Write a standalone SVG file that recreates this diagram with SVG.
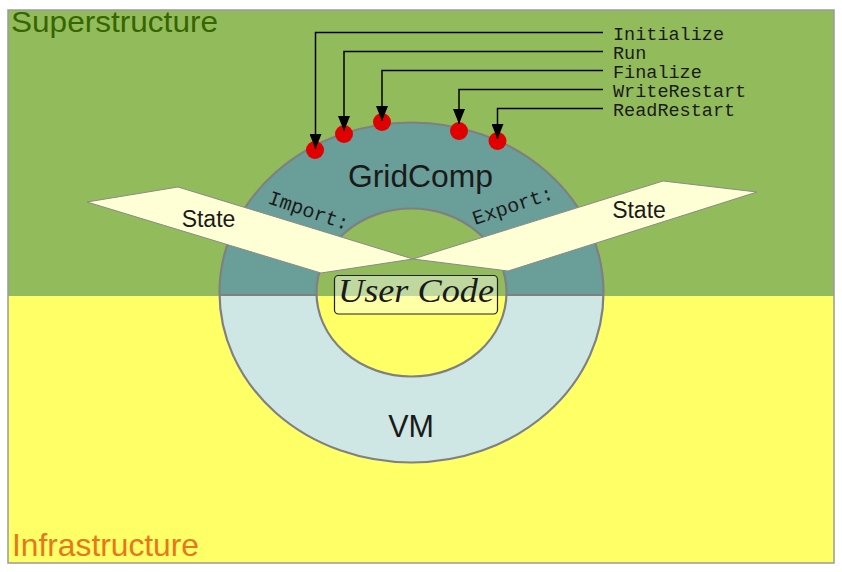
<svg xmlns="http://www.w3.org/2000/svg" width="842" height="572" viewBox="0 0 842 572">
<style>
.mono{font-family:"Liberation Mono","Courier New",monospace;fill:#1a1a1a}
.sans{font-family:"Liberation Sans",Arial,sans-serif;fill:#1a1a1a}
.state{fill:#ffffd6;stroke:#8a8a8a;stroke-width:1}
.dot{fill:#e00000}
.conn{fill:none;stroke:#000;stroke-width:1.5}
.ring{stroke:#808080;stroke-width:2.2;fill:none}
</style>
<defs>
<marker id="arr" markerUnits="userSpaceOnUse" markerWidth="15" markerHeight="12" refX="15" refY="6" orient="auto">
<path d="M0,0 L15,6 L0,12 Z" fill="#000"/>
</marker>
<clipPath id="topClip"><rect x="0" y="0" width="842" height="295"/></clipPath>
<clipPath id="frame"><rect x="8" y="10" width="826" height="553"/></clipPath>
</defs>
<rect width="842" height="572" fill="#ffffff"/>
<g id="superstructure">
<rect x="8" y="10" width="826" height="286" fill="#92bc5c"/>
</g>
<g id="infrastructure">
<rect x="8" y="296" width="826" height="267" fill="#ffff66"/>
</g>
<rect x="8" y="10" width="826" height="553" fill="none" stroke="#9a9a9a" stroke-width="1.5"/>
<g clip-path="url(#frame)">
<text x="11" y="32" class="sans" font-size="30" textLength="207" lengthAdjust="spacingAndGlyphs" style="fill:#376500">Superstructure</text>
</g>
<text x="12" y="556" class="sans" font-size="31.5" textLength="187" lengthAdjust="spacingAndGlyphs" style="fill:#e8761c">Infrastructure</text>

<g id="vm">
<path d="M219.5,292.5 A192,170 0 1 0 603.5,292.5 A192,170 0 1 0 219.5,292.5 Z M316.5,292.5 A95,84 0 1 1 506.5,292.5 A95,84 0 1 1 316.5,292.5 Z" fill="#cee6e4" fill-rule="evenodd"/>
<text x="411" y="437" class="sans" font-size="30.5" text-anchor="middle">VM</text>
</g>
<g id="gridcomp">
<path clip-path="url(#topClip)" d="M219.5,292.5 A192,170 0 1 0 603.5,292.5 A192,170 0 1 0 219.5,292.5 Z M316.5,292.5 A95,84 0 1 1 506.5,292.5 A95,84 0 1 1 316.5,292.5 Z" fill="#6a9e98" fill-rule="evenodd"/>
<ellipse cx="411.5" cy="292.5" rx="192" ry="170" class="ring"/>
<ellipse cx="411.5" cy="292.5" rx="95" ry="84" class="ring"/>
<path d="M219.5,295 H316.5 M506.5,295 H603.5" class="ring"/>
<text x="420.5" y="187" class="sans" font-size="31.5" text-anchor="middle" textLength="145" lengthAdjust="spacingAndGlyphs">GridComp</text>
<text x="267" y="203" class="mono" font-size="20" transform="rotate(19 267 203)">Import:</text>
<text x="475" y="225" class="mono" font-size="20" transform="rotate(-18.5 475 225)">Export:</text>
</g>
<g id="dots">
<circle cx="315" cy="150" r="9" class="dot"/>
<circle cx="344" cy="134" r="9" class="dot"/>
<circle cx="382" cy="122" r="9" class="dot"/>
<circle cx="459" cy="131" r="9" class="dot"/>
<circle cx="497.5" cy="141" r="9" class="dot"/>
</g>
<g id="import-state">
<polygon points="87,202 178,187 413,259 321,273" class="state"/>
<text x="208.5" y="226.5" class="sans" font-size="23" text-anchor="middle">State</text>
</g>
<g id="export-state">
<polygon points="413,259 663,181 757,192 508,271" class="state"/>
<text x="639" y="217.5" class="sans" font-size="23" text-anchor="middle">State</text>
</g>
<g id="usercode">
<rect x="334.5" y="275.5" width="163" height="38.5" rx="4" fill="#ffffff" fill-opacity="0.42" stroke="#222" stroke-width="1.2"/>
<text x="416" y="302" font-family="'Liberation Serif','DejaVu Serif',serif" font-style="italic" font-size="34" textLength="156" lengthAdjust="spacingAndGlyphs" text-anchor="middle" fill="#1a1a1a">User Code</text>
</g>
<g id="connectors">
<path d="M603,32.5 H315.5 V149" class="conn" marker-end="url(#arr)"/>
<path d="M603,51.5 H344 V131" class="conn" marker-end="url(#arr)"/>
<path d="M603,70.5 H382 V121" class="conn" marker-end="url(#arr)"/>
<path d="M603,89.5 H459 V124" class="conn" marker-end="url(#arr)"/>
<path d="M603,108.5 H497.5 V139" class="conn" marker-end="url(#arr)"/>
</g>
<g id="methods">
<text x="613" y="39.5" class="mono" font-size="18.5">Initialize</text>
<text x="613" y="58.5" class="mono" font-size="18.5">Run</text>
<text x="613" y="77.5" class="mono" font-size="18.5">Finalize</text>
<text x="613" y="96.5" class="mono" font-size="18.5">WriteRestart</text>
<text x="613" y="115.5" class="mono" font-size="18.5">ReadRestart</text>
</g>
</svg>
